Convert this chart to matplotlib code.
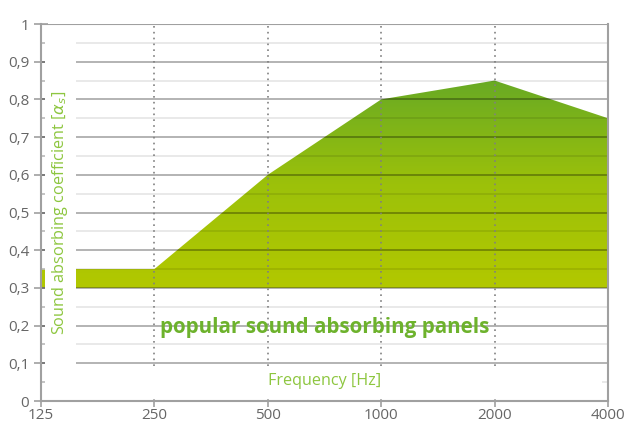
import matplotlib
matplotlib.use('Agg')
import matplotlib.pyplot as plt
import numpy as np
from matplotlib.colors import LinearSegmentedColormap
from matplotlib.patches import Rectangle

# Données
frequences = ['125', '250', '500', '1000', '2000', '4000']
coefficients = [0.35, 0.35, 0.6, 0.8, 0.85, 0.75]
base = 0.3
etiquettes_y = ['0', '0,1', '0,2', '0,3', '0,4', '0,5', '0,6', '0,7', '0,8', '0,9', '1']

plt.rcParams['font.family'] = ['Open Sans', 'DejaVu Sans']

vert_clair = '#8dc63f'
vert_fonce = '#6db22c'
gris = '#a0a0a0'

fig = plt.figure(figsize=(6.25, 4.23), dpi=100)
ax = fig.add_axes([41 / 625, 1 - 401 / 423, 567 / 625, 377 / 423])

x = np.arange(len(frequences))
ax.set_xlim(0, len(frequences) - 1)
ax.set_ylim(0, 1)

# Remplissage en dégradé
poly = ax.fill_between(x, base, coefficients, color='none', lw=0)
degrade = LinearSegmentedColormap.from_list('d', ['#b2c800', '#9cc10a', '#68aa24'])
grad = np.linspace(0, 1, 256).reshape(-1, 1)
img = ax.imshow(grad, cmap=degrade, origin='lower', aspect='auto',
                extent=(0, len(frequences) - 1, base, max(coefficients)), zorder=1)
img.set_clip_path(poly.get_paths()[0], transform=ax.transData)

# Quadrillage
for v in np.arange(0.1, 1.0, 0.1):
    ax.axhline(v, color='black', alpha=0.35, lw=1.2, zorder=2)
for v in np.arange(0.05, 1.0, 0.1):
    ax.axhline(v, color='black', alpha=0.1, lw=1.2, zorder=2)
ax.axhline(1.0, color=gris, lw=1.5, zorder=2)
for xi in x[1:-1]:
    ax.axvline(xi, color='#808080', lw=1.2, ls=(0, (1, 2.5)), zorder=3)

# Caches blancs derrière les titres d'axes
ax.add_patch(Rectangle((0.035, 0.005), 0.275, 0.985, color='white', zorder=4, lw=0))
ax.add_patch(Rectangle((0.31, 0.01), 4.64, 0.078, color='white', zorder=4, lw=0))

ax.text(0.167, 0.5, r'Sound absorbing coefficient [$\alpha_s$]', rotation=90,
        ha='center', va='center', color=vert_clair, fontsize=11.7, zorder=5)
ax.text(2.5, 0.052, 'Frequency [Hz]', ha='center', va='center',
        color=vert_clair, fontsize=11.6, zorder=5)
ax.text(2.5, 0.196, 'popular sound absorbing panels', ha='center', va='center',
        color=vert_fonce, fontsize=14.9, fontweight='bold', zorder=5)

# Axes
ax.set_xticks(x)
ax.set_xticklabels(frequences)
ax.set_yticks(np.arange(0, 1.01, 0.1))
ax.set_yticklabels(etiquettes_y)
ax.set_yticks(np.arange(0.05, 1.0, 0.1), minor=True)
ax.tick_params(axis='y', which='major', direction='inout', length=10, color=gris,
               labelcolor='#666666', labelsize=11, width=1.2)
ax.tick_params(axis='y', which='minor', direction='in', length=4, color='#d0d0d0', width=1.2)
ax.tick_params(axis='x', direction='out', length=4, pad=1, color=gris,
               labelcolor='#666666', labelsize=11, width=1.2)

ax.spines['top'].set_visible(False)
for s in ['left', 'bottom', 'right']:
    ax.spines[s].set_color(gris)
    ax.spines[s].set_linewidth(1.5)
    ax.spines[s].set_zorder(6)

fig.savefig('out.png', dpi=100)
